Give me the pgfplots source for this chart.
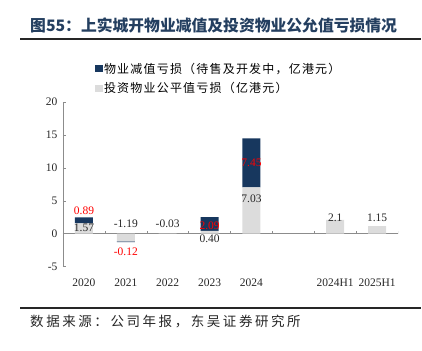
\documentclass[border=0pt]{standalone}
\usepackage{pgfplots}
\pgfplotsset{compat=1.18}
\usepackage{fontspec}
\setmainfont{Liberation Serif}
\newfontfamily\cjk{Noto Sans CJK SC}
\definecolor{barnavy}{HTML}{17375E}
\definecolor{bargrey}{HTML}{DCDCDC}
\definecolor{titleblue}{HTML}{243F60}
\definecolor{axisgrey}{HTML}{8C8C8C}
\begin{document}
\begin{tikzpicture}
\useasboundingbox (0,0) rectangle (422bp,351bp);
% title and rules
\node[anchor=west, inner sep=0pt, text=titleblue, font=\cjk\bfseries\fontsize{15.8bp}{17bp}\selectfont] at (30bp,326bp) {图55：上实城开物业减值及投资物业公允值亏损情况};
\draw[line width=1.5bp, black!85] (20bp,312bp) -- (421bp,312bp);
\draw[line width=1.3bp, black!85] (20bp,43bp) -- (421bp,43bp);
\node[anchor=west, inner sep=0pt, text=black!85, font=\cjk\fontsize{13.5bp}{15bp}\selectfont\addfontfeature{LetterSpace=19}] at (30bp,29bp) {数据来源：公司年报，东吴证券研究所};

\begin{axis}[
  at={(63bp,84.5bp)}, anchor=south west,
  scale only axis, width=335bp, height=164.5bp,
  ybar stacked, bar width=18bp,
  xmin=-0.5, xmax=7.5, ymin=-5, ymax=20,
  xtick={0,...,7},
  xticklabels={2020,2021,2022,2023,2024,,2024H1,2025H1},
  ytick={-5,0,5,10,15,20},
  axis y line*=left, axis x line*=bottom,
  x axis line style={draw=none},
  y axis line style={draw=axisgrey},
  xtick style={draw=none},
  ytick style={draw=axisgrey},
  tick align=inside,
  major tick length=3bp,
  tick label style={font=\fontsize{11.5bp}{13bp}\selectfont, text=black!85},
  xticklabel style={yshift=-9bp},
  yticklabel style={xshift=-2bp},
  /pgf/number format/assume math mode=true,
  reverse legend,
  legend cell align=left,
  legend style={at={(0.095,1.248)}, anchor=north west, draw=none, fill=none,
    font=\cjk\fontsize{12bp}{13bp}\selectfont\addfontfeature{LetterSpace=10},
    row sep=5bp, inner sep=0pt, nodes={inner sep=1.5bp}},
]
\addplot[fill=bargrey, draw=none,
  legend image code/.code={\fill[bargrey] (0bp,-3.5bp) rectangle (7.5bp,3.5bp);}]
  coordinates {(0,1.57) (1,-1.19) (2,-0.03) (3,0.40) (4,7.03) (5,0) (6,2.1) (7,1.15)};
\addlegendentry{投资物业公平值亏损（亿港元）}
\addplot[fill=barnavy, draw=none,
  legend image code/.code={\fill[barnavy] (0bp,-3.5bp) rectangle (7.5bp,3.5bp);}]
  coordinates {(0,0.89) (1,-0.12) (2,0) (3,2.09) (4,7.45) (5,0) (6,0) (7,0)};
\addlegendentry{物业减值亏损（待售及开发中，亿港元）}
\draw[axisgrey] (axis cs:-0.5,0) -- (axis cs:7.5,0);
\pgfplotsinvokeforeach{0.5,1.5,2.5,3.5,4.5,5.5,6.5,7.5}{
  \draw[axisgrey] (axis cs:#1,0) -- ([yshift=3bp]axis cs:#1,0);
}
\end{axis}

\begin{axis}[
  at={(63bp,84.5bp)}, anchor=south west,
  scale only axis, width=335bp, height=164.5bp,
  xmin=-0.5, xmax=7.5, ymin=-5, ymax=20,
  hide axis, clip=false,
]
\addplot[only marks, mark=none, nodes near coords, point meta=explicit symbolic,
  nodes near coords style={anchor=center, inner sep=0pt, text=red, font=\fontsize{11.5bp}{13bp}\selectfont}]
  table[meta=label] {
x y label
0 3.5 0.89
1 -2.7 -0.12
3 1.2 2.09
4 10.7 7.45
};
\addplot[only marks, mark=none, nodes near coords, point meta=explicit symbolic,
  nodes near coords style={anchor=center, inner sep=0pt, text=black!85, font=\fontsize{11.5bp}{13bp}\selectfont}]
  table[meta=label] {
x y label
0 0.95 1.57
1 1.5 -1.19
2 1.5 -0.03
3 -0.8 0.40
4 5.3 7.03
6 2.45 2.1
7 2.45 1.15
};
\end{axis}
\end{tikzpicture}
\end{document}
